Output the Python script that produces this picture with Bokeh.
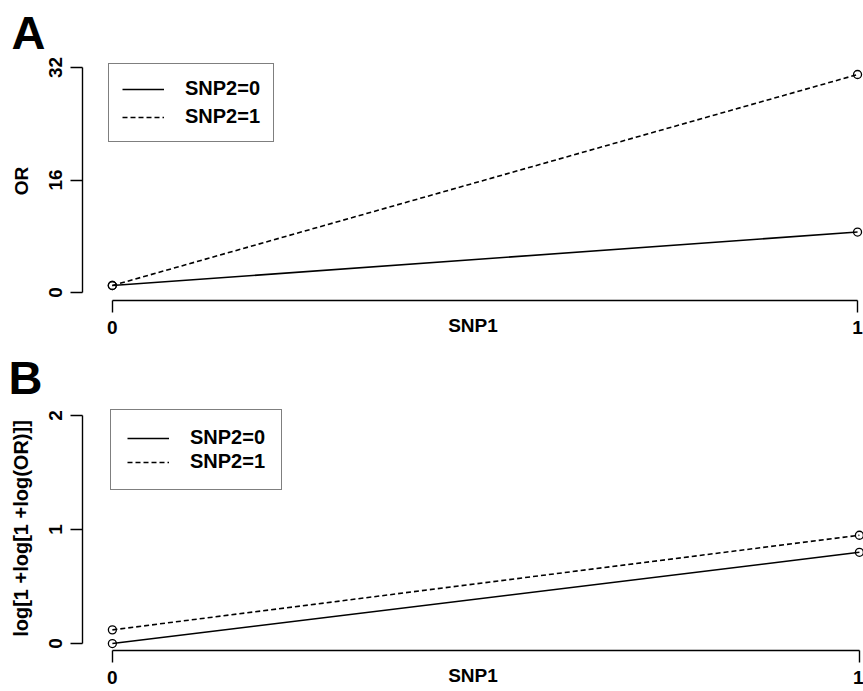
from bokeh.plotting import figure
from bokeh.models import Legend, LegendItem, FixedTicker, Range1d, Title
from bokeh.layouts import column
from bokeh.embed import file_html
from bokeh.resources import INLINE

# ---- data ----
snp1 = [0, 1]
xticks = [0, 1]
series_labels = ["SNP2=0", "SNP2=1"]

# Panel A: OR
or_snp2_0 = [1.0, 8.6]
or_snp2_1 = [1.0, 31.0]
yticks_a = [0, 16, 32]

# Panel B: log[1+log[1+log(OR)]]
llor_snp2_0 = [0.0, 0.80]
llor_snp2_1 = [0.12, 0.95]
yticks_b = [0, 1, 2]

FONT = "Liberation Sans"


def style_axes(p, yticks, ylabel, xlabel, ylabel_size="19px"):
    p.grid.visible = False
    p.outline_line_color = None
    xa = p.xaxis[0]
    xa.ticker = FixedTicker(ticks=xticks)
    xa.bounds = (xticks[0], xticks[-1])
    xa.axis_label = xlabel
    ya = p.yaxis[0]
    ya.ticker = FixedTicker(ticks=yticks)
    ya.bounds = (yticks[0], yticks[-1])
    ya.axis_label = ylabel
    ya.major_label_orientation = "vertical"
    for ax in (xa, ya):
        ax.axis_line_color = "black"
        ax.axis_line_width = 1.4
        ax.major_tick_line_color = "black"
        ax.major_tick_line_width = 1.4
        ax.major_tick_in = 0
        ax.major_tick_out = 12
        ax.minor_tick_line_color = None
        ax.major_label_text_font = FONT
        ax.major_label_text_font_size = "19px"
        ax.major_label_text_font_style = "bold"
        ax.major_label_text_color = "black"
        ax.major_label_standoff = 8
        ax.axis_label_text_font = FONT
        ax.axis_label_text_font_style = "bold"
        ax.axis_label_text_color = "black"
    xa.axis_label_text_font_size = "19px"
    xa.axis_label_standoff = -22
    ya.axis_label_text_font_size = ylabel_size
    ya.axis_label_standoff = 15


def add_series(p, y0, y1, legend_loc, spacing, label_height, padding):
    l0 = p.line(snp1, y0, line_color="black", line_width=1.6)
    l1 = p.line(snp1, y1, line_color="black", line_width=1.6, line_dash="5 3")
    p.scatter(snp1, y0, marker="circle", size=8, fill_color=None,
              line_color="black", line_width=1.3)
    p.scatter(snp1, y1, marker="circle", size=8, fill_color=None,
              line_color="black", line_width=1.3)
    leg = Legend(items=[LegendItem(label=series_labels[0], renderers=[l0]),
                        LegendItem(label=series_labels[1], renderers=[l1])],
                 location=legend_loc, margin=0, padding=padding,
                 spacing=spacing, label_height=label_height, glyph_height=label_height,
                 glyph_width=42, label_standoff=21,
                 border_line_color="black", border_line_width=1.2,
                 background_fill_color="white", background_fill_alpha=1.0,
                 label_text_font=FONT, label_text_font_size="20px",
                 label_text_font_style="bold", label_text_color="black")
    p.add_layout(leg)


def panel_title(text, offset, standoff):
    return Title(text=text, align="left", offset=offset, standoff=standoff,
                 vertical_align="bottom", text_font=FONT, text_font_size="47px",
                 text_font_style="bold", text_color="black")


# ---- Panel A ----
pa = figure(width=863, height=345, output_backend="svg", toolbar_location=None,
            x_range=Range1d(-0.04, 1.008), y_range=Range1d(-1.13, 32.85),
            min_border_left=78, min_border_right=0, min_border_top=60,
            min_border_bottom=45, background_fill_color="white",
            border_fill_color="white", title=panel_title("A", -71, 6))
style_axes(pa, yticks_a, "OR", "SNP1")
add_series(pa, or_snp2_0, or_snp2_1, (26, 158), 5, 22, 13)

# ---- Panel B ----
pb = figure(width=863, height=346, output_backend="svg", toolbar_location=None,
            x_range=Range1d(-0.04, 1.0055), y_range=Range1d(-0.061, 2.079),
            min_border_left=82, min_border_right=0, min_border_top=61,
            min_border_bottom=41, background_fill_color="white",
            border_fill_color="white", title=panel_title("B", -74, 6))
style_axes(pb, yticks_b, "log[1 +log[1 +log(OR)]]", "SNP1", ylabel_size="20px")
add_series(pb, llor_snp2_0, llor_snp2_1, (28, 160), 1, 20, 16)

layout = column(pa, pb)
open("out.html", "w").write(file_html(layout, INLINE))
